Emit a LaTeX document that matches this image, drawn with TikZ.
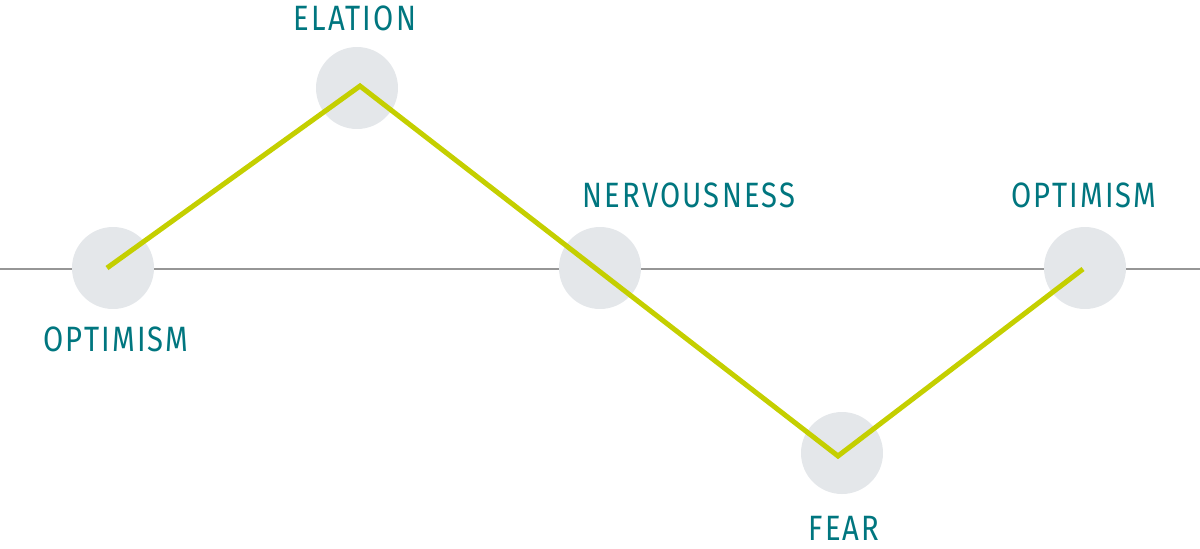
\documentclass[tikz,border=0pt]{standalone}
\usepackage{fontspec}
\setmainfont{Fira Sans}[FakeStretch=0.83,LetterSpace=6]
\definecolor{teal}{RGB}{0,118,127}
\definecolor{lime}{RGB}{196,207,0}
\definecolor{dot}{RGB}{228,231,234}
\definecolor{axis}{RGB}{150,150,150}
\begin{document}
\begin{tikzpicture}[x=0.5pt,y=-0.5pt,
  dotnode/.style={circle,fill=dot,minimum size=41pt,inner sep=0pt},
  lbl/.style={text=teal,font=\fontsize{17.6}{20}\selectfont,inner sep=0pt,anchor=base},
  trend/.style={draw=lime,line width=2.5pt,line join=miter},
  axisline/.style={draw=axis,line width=1pt}]
\useasboundingbox (0,0) rectangle (1200,548);
\coordinate (axL) at (0,268.5);
\coordinate (axR) at (1200,268.5);
\draw[axisline] (axL) -- (axR);
\node[dotnode] (d1) at (113,268) {};
\node[dotnode] (d2) at (357,88) {};
\node[dotnode] (d3) at (600,268) {};
\node[dotnode] (d4) at (842,453) {};
\node[dotnode] (d5) at (1085,268) {};
\coordinate (p1) at (107,268);
\coordinate (p2) at (360,86);
\coordinate (p4) at (838,456);
\coordinate (p5) at (1083,269);
\draw[trend] (p1) -- (p2) -- (p4) -- (p5);
\node[lbl] (t1) at (116,351) {OPTIMISM};
\node[lbl] (t2) at (355,30) {ELATION};
\node[lbl] (t3) at (689,207) {NERVOUSNESS};
\node[lbl] (t4) at (844,540) {FEAR};
\node[lbl] (t5) at (1084,207) {OPTIMISM};
\end{tikzpicture}
\end{document}
